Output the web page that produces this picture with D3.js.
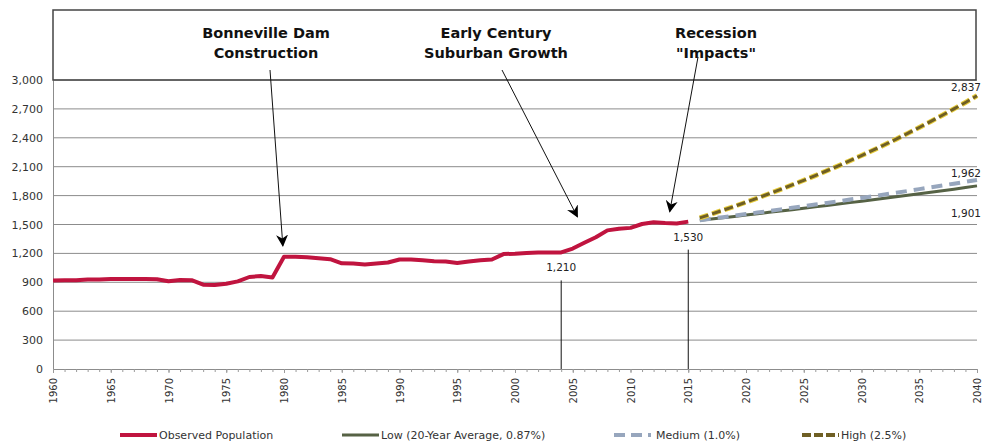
<!DOCTYPE html>
<html>
<head>
<meta charset="utf-8">
<script src="https://cdn.jsdelivr.net/npm/d3@7"></script>
<style>
  body { margin: 0; background: #fff; }
  text { font-family: "DejaVu Sans", Verdana, sans-serif; }
</style>
</head>
<body>
<div id="chart"></div>
<script>
// observed population 1960-2015
var obsYears = [1960,1961,1962,1963,1964,1965,1966,1967,1968,1969,1970,1971,1972,1973,1974,1975,1976,1977,1978,1979,
  1980,1981,1982,1983,1984,1985,1986,1987,1988,1989,1990,1991,1992,1993,1994,1995,1996,1997,1998,1999,
  2000,2001,2002,2003,2004,2005,2006,2007,2008,2009,2010,2011,2012,2013,2014,2015];
var obsValues = [918,920,922,928,930,934,935,935,935,932,910,925,922,875,872,885,910,955,965,950,
  1165,1165,1160,1150,1140,1097,1095,1085,1095,1105,1137,1137,1128,1118,1115,1100,1115,1130,1137,1193,
  1197,1205,1210,1210,1210,1250,1310,1367,1439,1455,1465,1505,1523,1515,1510,1530];

// projections 2016-2040
var projYears = [2016,2017,2018,2019,2020,2021,2022,2023,2024,2025,2026,2027,2028,2029,2030,
  2031,2032,2033,2034,2035,2036,2037,2038,2039,2040];
var lowValues = [1543,1557,1570,1584,1598,1612,1626,1640,1654,1669,1683,1698,1712,1727,1742,
  1758,1773,1788,1804,1819,1835,1851,1867,1884,1901];
var medValues = [1545,1561,1576,1592,1608,1624,1640,1657,1673,1690,1707,1724,1741,1759,1776,
  1794,1812,1830,1848,1867,1886,1905,1924,1943,1962];
var highValues = [1568,1608,1648,1689,1731,1774,1819,1864,1911,1959,2008,2058,2109,2162,2216,
  2271,2328,2386,2446,2507,2570,2634,2700,2767,2837];

var yTicks = [0,300,600,900,1200,1500,1800,2100,2400,2700,3000];
var xTicks = [1960,1965,1970,1975,1980,1985,1990,1995,2000,2005,2010,2015,2020,2025,2030,2035,2040];

var seriesNames = ["Observed Population", "Low (20-Year Average, 0.87%)", "Medium (1.0%)", "High (2.5%)"];

// callouts: text lines, where the text sits in the top box, arrow tip in data units
var notes = [
  { lines: ["Bonneville Dam", "Construction"], cx: 266, startX: 270, startY: 70, tipYear: 1979.9, tipValue: 1280 },
  { lines: ["Early Century", "Suburban Growth"], cx: 496, startX: 502, startY: 70, tipYear: 2005.4, tipValue: 1580 },
  { lines: ["Recession", "\"Impacts\""], cx: 716, startX: 698, startY: 57, tipYear: 2013.4, tipValue: 1635 }
];
var markers = [ { year: 2004, value: 1210 }, { year: 2015, value: 1530 } ];

var width = 985, height = 444;
var margin = { top: 80, right: 7, bottom: 75, left: 53 };

var svg = d3.select("#chart").append("svg")
  .attr("width", width)
  .attr("height", height);

var x = d3.scaleLinear().domain([1960, 2040]).range([margin.left, width - margin.right - 1]);
var y = d3.scaleLinear().domain([0, 3000]).range([height - margin.bottom, margin.top]);

// gridlines
svg.append("g")
  .selectAll("line")
  .data(yTicks.filter(d => d > 0))
  .enter().append("line")
  .attr("x1", x(1960)).attr("x2", x(2040))
  .attr("y1", d => y(d)).attr("y2", d => y(d))
  .attr("stroke", "#8c8c8c")
  .attr("stroke-width", 1);

// y axis
var yAxis = svg.append("g")
  .attr("transform", "translate(" + x(1960) + ",0)")
  .call(d3.axisLeft(y).tickValues(yTicks).tickSize(0).tickPadding(10).tickFormat(d3.format(",")));
yAxis.select(".domain").attr("stroke", "#8c8c8c");
yAxis.selectAll("text").attr("font-size", "11px").attr("fill", "#333")
  .attr("font-family", "DejaVu Sans");

// x axis, minor yearly ticks
var xAxisG = svg.append("g")
  .attr("transform", "translate(0," + y(0) + ")");
xAxisG.call(d3.axisBottom(x).tickValues(d3.range(1960, 2041)).tickSize(3).tickFormat(""));
xAxisG.select(".domain").attr("stroke", "#8c8c8c");
xAxisG.selectAll(".tick line").attr("stroke", "#9a9a9a");

var xLabels = svg.append("g")
  .attr("transform", "translate(0," + y(0) + ")")
  .call(d3.axisBottom(x).tickValues(xTicks).tickSize(4).tickFormat(d3.format("d")));
xLabels.select(".domain").remove();
xLabels.selectAll(".tick line").attr("stroke", "#9a9a9a");
xLabels.selectAll("text")
  .attr("font-size", "10px")
  .attr("fill", "#333")
  .attr("font-family", "DejaVu Sans")
  .attr("transform", "rotate(-90)")
  .attr("text-anchor", "end")
  .attr("x", -9)
  .attr("y", 0)
  .attr("dy", "0.35em");

// top annotation box
svg.append("rect")
  .attr("x", x(1960)).attr("y", 10)
  .attr("width", x(2040) - x(1960) - 1)
  .attr("height", y(3000) - 10)
  .attr("fill", "none")
  .attr("stroke", "#444")
  .attr("stroke-width", 1.5);

// vertical marker lines + labels
svg.selectAll(".marker")
  .data(markers)
  .enter().append("line")
  .attr("x1", d => x(d.year)).attr("x2", d => x(d.year))
  .attr("y1", d => y(d.value) + 28).attr("y2", y(0))
  .attr("stroke", "#111").attr("stroke-width", 1);

svg.selectAll(".mlabel")
  .data(markers)
  .enter().append("text")
  .attr("x", d => x(d.year))
  .attr("y", d => y(d.value) + 19)
  .attr("text-anchor", "middle")
  .attr("font-size", "10.5px")
  .attr("fill", "#222")
  .text(d => d3.format(",")(d.value));

var line = d3.line()
  .x(d => x(d[0]))
  .y(d => y(d[1]));

// projections
var lowPts = d3.zip(projYears, lowValues);
var medPts = d3.zip(projYears, medValues);
var highPts = d3.zip(projYears, highValues);

svg.append("path").datum(lowPts)
  .attr("d", line).attr("fill", "none")
  .attr("stroke", "#566245").attr("stroke-width", 3);

svg.append("path").datum(medPts)
  .attr("d", line).attr("fill", "none")
  .attr("stroke", "#97a6bd").attr("stroke-width", 4)
  .attr("stroke-dasharray", "11,7");

svg.append("path").datum(highPts)
  .attr("d", line).attr("fill", "none")
  .attr("stroke", "#e8cd3c").attr("stroke-width", 5)
  .attr("stroke-dasharray", "9,4");
svg.append("path").datum(highPts)
  .attr("d", line).attr("fill", "none")
  .attr("stroke", "#6f5f24").attr("stroke-width", 3)
  .attr("stroke-dasharray", "9,4");

// observed
svg.append("path").datum(d3.zip(obsYears, obsValues))
  .attr("d", line).attr("fill", "none")
  .attr("stroke", "#c0143f").attr("stroke-width", 4)
  .attr("stroke-linejoin", "round");

// end labels
var endLabels = [
  { value: highValues[highValues.length - 1], dy: -5 },
  { value: medValues[medValues.length - 1], dy: -3 },
  { value: lowValues[lowValues.length - 1], dy: 31 }
];
svg.selectAll(".elabel")
  .data(endLabels)
  .enter().append("text")
  .attr("x", x(2040) + 4)
  .attr("y", d => y(d.value) + d.dy)
  .attr("text-anchor", "end")
  .attr("font-size", "10.5px")
  .attr("fill", "#222")
  .text(d => d3.format(",")(d.value));

// callouts
svg.append("defs").append("marker")
  .attr("id", "head")
  .attr("viewBox", "0 0 10 10")
  .attr("refX", 9).attr("refY", 5)
  .attr("markerWidth", 12).attr("markerHeight", 12)
  .attr("markerUnits", "userSpaceOnUse")
  .attr("orient", "auto")
  .append("path")
  .attr("d", "M0,0 L10,5 L0,10 L3,5 z")
  .attr("fill", "#000");

var noteG = svg.selectAll(".note").data(notes).enter().append("g");
noteG.append("line")
  .attr("x1", d => d.startX).attr("y1", d => d.startY)
  .attr("x2", d => x(d.tipYear)).attr("y2", d => y(d.tipValue))
  .attr("stroke", "#111").attr("stroke-width", 1)
  .attr("marker-end", "url(#head)");
noteG.each(function (d) {
  var t = d3.select(this).append("text")
    .attr("text-anchor", "middle")
    .attr("font-size", "14.5px")
    .attr("font-weight", "bold")
    .attr("fill", "#111");
  d.lines.forEach(function (s, i) {
    t.append("tspan").attr("x", d.cx).attr("y", 38 + i * 20).text(s);
  });
});

// legend
var legendX = [120, 342, 614, 802];
var legend = svg.append("g").attr("transform", "translate(0,435)");
var styles = [
  { stroke: "#c0143f", w: 4, dash: null },
  { stroke: "#566245", w: 3, dash: null },
  { stroke: "#97a6bd", w: 4, dash: "11,6" },
  { stroke: "#6f5f24", w: 4, dash: "9,3" }
];
seriesNames.forEach(function (name, i) {
  legend.append("line")
    .attr("x1", legendX[i]).attr("x2", legendX[i] + 37)
    .attr("y1", 0).attr("y2", 0)
    .attr("stroke", styles[i].stroke)
    .attr("stroke-width", styles[i].w)
    .attr("stroke-dasharray", styles[i].dash);
  legend.append("text")
    .attr("x", legendX[i] + (i == 2 ? 42 : 39))
    .attr("y", 4)
    .attr("font-size", "11px")
    .attr("fill", "#333")
    .text(name);
});
</script>
</body>
</html>
